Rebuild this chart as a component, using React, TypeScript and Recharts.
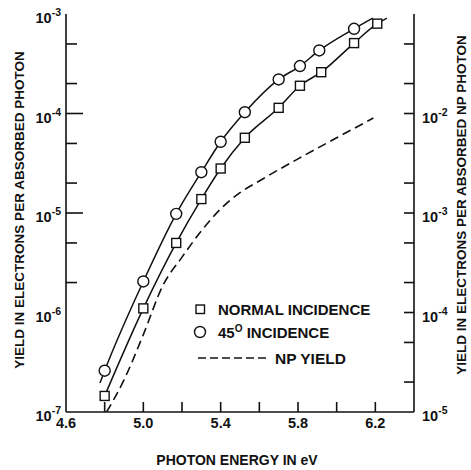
import { LineChart, Line, XAxis, YAxis } from 'recharts'

// photon energy (eV) and yield
const normalEnergy = [4.8, 5.0, 5.17, 5.3, 5.4, 5.525, 5.7, 5.81, 5.92, 6.09, 6.21]
const normalYield = [1.45e-7, 1.1e-6, 5.0e-6, 1.38e-5, 2.8e-5, 5.7e-5, 1.14e-4, 1.9e-4, 2.6e-4, 5.1e-4, 8.0e-4]
const normalLineEnd = [6.26, 9.1e-4]

const obliqueEnergy = [4.8, 5.0, 5.17, 5.3, 5.4, 5.525, 5.7, 5.81, 5.91, 6.09]
const obliqueYield = [2.6e-7, 2.05e-6, 9.8e-6, 2.57e-5, 5.2e-5, 1.03e-4, 2.2e-4, 3.0e-4, 4.3e-4, 7.1e-4]
const obliqueLineStart = [4.776, 1.96e-7]
const obliqueLineEnd = [6.187, 9.1e-4]

// NP yield, right-hand axis
const npEnergy = [4.81, 4.9, 5.0, 5.1, 5.2, 5.3, 5.4, 5.5, 5.6, 5.8, 6.0, 6.19]
const npYield = [1.0e-5, 2.1e-5, 6.0e-5, 1.85e-4, 3.6e-4, 6.6e-4, 1.1e-3, 1.6e-3, 2.1e-3, 3.5e-3, 5.7e-3, 9.0e-3]

const energyTicks = [4.6, 4.8, 5.0, 5.2, 5.4, 5.6, 5.8, 6.0, 6.2, 6.4]
const energyLabels = [4.6, 5.0, 5.4, 5.8, 6.2]
const leftTicks = [1e-7, 2e-7, 5e-7, 1e-6, 2e-6, 5e-6, 1e-5, 2e-5, 5e-5, 1e-4, 2e-4, 5e-4, 1e-3]
const rightTicks = [1e-5, 2e-5, 5e-5, 1e-4, 2e-4, 5e-4, 1e-3, 2e-3, 5e-3, 1e-2, 2e-2, 5e-2, 1e-1]
const rightLabels = [1e-5, 1e-4, 1e-3, 1e-2]

const ink = '#111'
const font = '"Liberation Sans", Arial, sans-serif'

const normalData = [
    ...normalEnergy.map((e, i) => ({ e, y: normalYield[i], measured: true })),
    { e: normalLineEnd[0], y: normalLineEnd[1], measured: false },
]
const obliqueData = [
    { e: obliqueLineStart[0], y: obliqueLineStart[1], measured: false },
    ...obliqueEnergy.map((e, i) => ({ e, y: obliqueYield[i], measured: true })),
    { e: obliqueLineEnd[0], y: obliqueLineEnd[1], measured: false },
]
const npData = npEnergy.map((e, i) => ({ e, y: npYield[i] }))

const isDecade = (v: number) => Math.abs(Math.log10(v) - Math.round(Math.log10(v))) < 1e-6
const near = (a: number, b: number) => Math.abs(a - b) < 1e-6

const Power = ({ x, y, v, anchor }: any) => (
    <text x={x} y={y} textAnchor={anchor} fontFamily={font} fontWeight="bold" fontSize={14.5} fill={ink}>
        <tspan>10</tspan>
        <tspan dy={-7} fontSize={10.5}>{'-' + Math.abs(Math.round(Math.log10(v)))}</tspan>
    </text>
)

const LeftTick = ({ x, y, payload }: any) => {
    const v = payload.value
    const major = isDecade(v)
    return (
        <g>
            {!near(v, 1e-7) && !near(v, 1e-3) && (
                <line x1={x} x2={x + (major ? 17 : 11)} y1={y} y2={y} stroke={ink} strokeWidth={1.6} />
            )}
            {major && <Power x={x - 5} y={y + 9} v={v} anchor="end" />}
        </g>
    )
}

const RightTick = ({ x, y, payload }: any) => {
    const v = payload.value
    const edge = near(v, 1e-5) || near(v, 1e-1)
    return (
        <g>
            {!edge && <line x1={x} x2={x - 10} y1={y} y2={y} stroke={ink} strokeWidth={1.6} />}
            {rightLabels.some((r) => near(r, v)) && <Power x={x + 8} y={y + 9} v={v} anchor="start" />}
        </g>
    )
}

const BottomTick = ({ x, y, payload }: any) => {
    const v = payload.value
    const edge = near(v, 4.6) || near(v, 6.4)
    return (
        <g>
            {!edge && <line x1={x} x2={x} y1={y} y2={y - 10} stroke={ink} strokeWidth={1.6} />}
            {energyLabels.some((l) => near(l, v)) && (
                <text x={x} y={y + 16} textAnchor="middle" fontFamily={font} fontWeight="bold" fontSize={14.5} fill={ink}>
                    {v.toFixed(1)}
                </text>
            )}
        </g>
    )
}

const TopTick = ({ x, y, payload }: any) => {
    const v = payload.value
    if (near(v, 4.6) || near(v, 6.4)) return <g />
    return <line x1={x} x2={x} y1={y} y2={y + 10} stroke={ink} strokeWidth={1.6} />
}

const SquareDot = (props: any) => {
    const { cx, cy, payload, index } = props
    if (!payload.measured) return <g key={'s' + index} />
    return <rect key={'s' + index} x={cx - 4.5} y={cy - 4.5} width={9} height={9} fill="#fff" stroke={ink} strokeWidth={1.4} />
}

const CircleDot = (props: any) => {
    const { cx, cy, payload, index } = props
    if (!payload.measured) return <g key={'c' + index} />
    return <circle key={'c' + index} cx={cx} cy={cy} r={5.5} fill="#fff" stroke={ink} strokeWidth={1.4} />
}

const Overlay = () => (
    <svg width={471} height={470} style={{ position: 'absolute', left: 0, top: 0, pointerEvents: 'none' }}>
        <g fontFamily={font} fontWeight="bold" fontSize={13.5} fill={ink}>
            <text transform="translate(24,210) rotate(-90)" textAnchor="middle">
                YIELD IN ELECTRONS PER ABSORBED PHOTON
            </text>
            <text transform="translate(466,205) rotate(-90)" textAnchor="middle">
                YIELD IN ELECTRONS PER ABSORBED NP PHOTON
            </text>
            <text x={237} y={465} textAnchor="middle" fontSize={14}>PHOTON ENERGY IN eV</text>
        </g>
        <g fontFamily={font} fontWeight="bold" fontSize={15} fill={ink}>
            <rect x={196} y={305} width={8.5} height={8.5} fill="#fff" stroke={ink} strokeWidth={1.4} />
            <text x={218} y={315}>NORMAL INCIDENCE</text>
            <circle cx={200} cy={332} r={5.5} fill="#fff" stroke={ink} strokeWidth={1.4} />
            <text x={218} y={338}>
                <tspan>45</tspan>
                <tspan dy={-6} fontSize={10}>O</tspan>
                <tspan dy={6}> INCIDENCE</tspan>
            </text>
            <line x1={198} x2={269} y1={358} y2={358} stroke={ink} strokeWidth={1.6} strokeDasharray="8 4" />
            <text x={275} y={364} fontSize={15.5}>NP YIELD</text>
        </g>
    </svg>
)

const App = () => {
    return (
        <div style={{ position: 'absolute', left: 0, top: 0, width: 471, height: 470, background: '#fff' }}>
            <LineChart width={471} height={470} margin={{ top: 14, right: 0, bottom: 0, left: 0 }}>
                <XAxis
                    dataKey="e" type="number" domain={[4.6, 6.4]} ticks={energyTicks} interval={0}
                    allowDataOverflow height={58} tickSize={0} tickMargin={0} tickLine={false}
                    axisLine={{ stroke: ink, strokeWidth: 1.6 }} tick={<BottomTick />}
                />
                <XAxis
                    xAxisId="top" orientation="top" dataKey="e" type="number" domain={[4.6, 6.4]}
                    ticks={energyTicks} interval={0} allowDataOverflow height={0} tickSize={0} tickMargin={0}
                    tickLine={false} axisLine={{ stroke: ink, strokeWidth: 1.6 }} tick={<TopTick />}
                />
                <YAxis
                    yAxisId="left" scale="log" type="number" domain={[1e-7, 1e-3]} ticks={leftTicks} interval={0}
                    allowDataOverflow width={66} tickSize={0} tickMargin={0} tickLine={false}
                    axisLine={{ stroke: ink, strokeWidth: 1.6 }} tick={<LeftTick />}
                />
                <YAxis
                    yAxisId="right" orientation="right" scale="log" type="number" domain={[1e-5, 1e-1]}
                    ticks={rightTicks} interval={0} allowDataOverflow width={57} tickSize={0} tickMargin={0}
                    tickLine={false} axisLine={{ stroke: ink, strokeWidth: 1.6 }} tick={<RightTick />}
                />
                <Line
                    yAxisId="right" data={npData} dataKey="y" type="monotone" stroke={ink} strokeWidth={1.6}
                    strokeDasharray="9 5" dot={false} isAnimationActive={false}
                />
                <Line
                    yAxisId="left" data={normalData} dataKey="y" type="monotone" stroke={ink} strokeWidth={1.5}
                    dot={SquareDot} isAnimationActive={false}
                />
                <Line
                    yAxisId="left" data={obliqueData} dataKey="y" type="monotone" stroke={ink} strokeWidth={1.5}
                    dot={CircleDot} isAnimationActive={false}
                />
            </LineChart>
            <Overlay />
        </div>
    )
}

export default App
